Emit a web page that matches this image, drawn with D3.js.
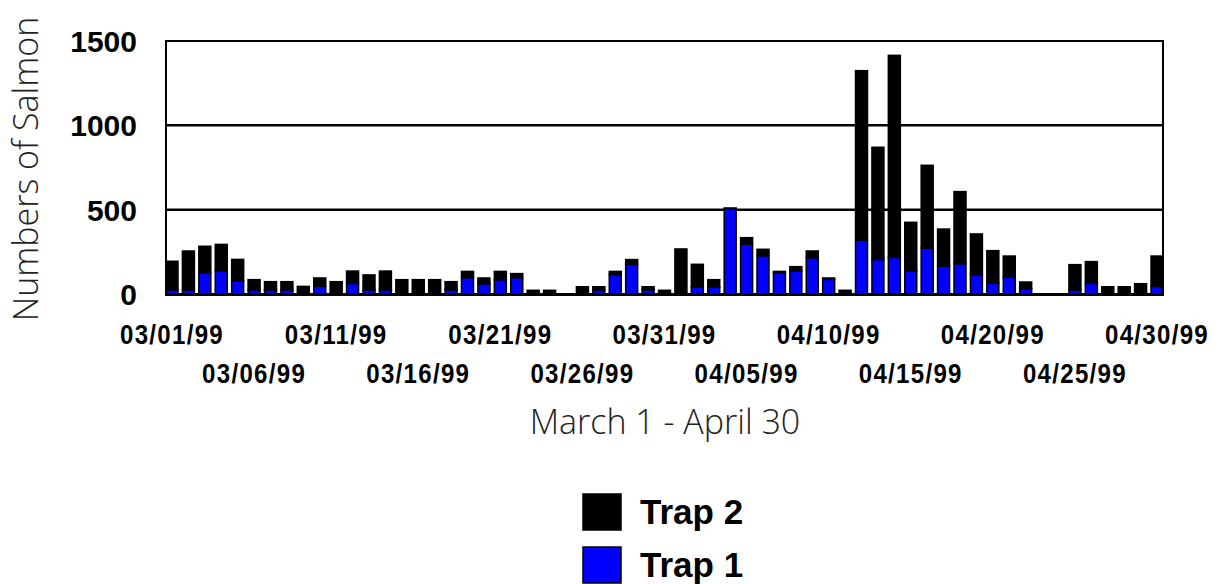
<html>
<!-- salmon counts per day at the two traps, stacked bars -->
<script src="https://d3js.org/d3.v7.min.js"></script>
<style>
  body { margin: 0; background: white; }
  .tick-y { font-family: "Liberation Sans", Arial, sans-serif; font-weight: bold; font-size: 30px; }
  .tick-x { font-family: "Liberation Sans", Arial, sans-serif; font-weight: bold; font-size: 28px; letter-spacing: 1.5px; }
  .title { font-family: "Open Sans", "Liberation Sans", sans-serif; font-weight: 300; font-size: 34px; fill: #222; }
  .legend { font-family: "Liberation Sans", Arial, sans-serif; font-weight: bold; font-size: 35px; }
</style>
<body>
<svg width="1221" height="584"></svg>

<script>
// one entry per day, March 1 to April 30 1999
const days = d3.timeDay.range(new Date(1999, 2, 1), new Date(1999, 4, 1));

// Trap 1 (blue, bottom of each bar)
const trap1 = [25,25,126,138,77,25,25,25,0,47,0,63,25,25,0,0,0,25,97,61,
               85,97,0,0,0,0,25,115,176,25,0,0,40,40,505,296,227,126,138,215,
               87,0,320,205,217,136,273,166,180,115,65,101,32,0,0,25,63,0,0,0,45];

// Trap 2 (black, stacked on top)
const trap2 = [169,230,157,156,128,60,48,48,45,48,73,73,88,111,85,85,85,48,37,34,
               49,24,22,22,0,43,18,19,28,18,22,267,136,45,5,38,38,8,24,40,
               8,22,1004,665,1198,289,490,219,427,241,192,124,39,0,0,149,129,43,43,61,180];

const yTicks = [0, 500, 1000, 1500];
const xTickLabels = ["03/01/99","03/06/99","03/11/99","03/16/99","03/21/99","03/26/99",
                     "03/31/99","04/05/99","04/10/99","04/15/99","04/20/99","04/25/99","04/30/99"];

const legendItems = [{name: "Trap 2", color: "#000000"}, {name: "Trap 1", color: "#0000ff"}];

const fmt = d3.timeFormat("%m/%d/%y");
const svg = d3.select("svg");

const plotL = 166, plotR = 1163, plotT = 41, plotB = 294;

const x = d3.scaleBand()
  .domain(days.map(fmt))
  .range([plotL, plotR])
  .paddingInner(0.27)
  .paddingOuter(0);

const y = d3.scaleLinear().domain([0, 1500]).range([plotB, plotT]);

// gridlines
svg.append("g").selectAll("line")
  .data(yTicks.filter(d => d > 0 && d < 1500))
  .join("line")
    .attr("x1", plotL).attr("x2", plotR)
    .attr("y1", d => y(d)).attr("y2", d => y(d))
    .attr("stroke", "black").attr("stroke-width", 2.5);

// stacked bars
const rows = days.map((d, i) => ({key: fmt(d), t1: trap1[i], t2: trap2[i]}));

const bars = svg.append("g");
bars.selectAll("rect.t1")
  .data(rows.filter(d => d.t1 > 0))
  .join("rect")
    .attr("class", "t1")
    .attr("x", d => x(d.key))
    .attr("width", x.bandwidth())
    .attr("y", d => y(d.t1))
    .attr("height", d => y(0) - y(d.t1))
    .attr("fill", "#0000ff")
    .attr("stroke", "black").attr("stroke-width", 1.5);

bars.selectAll("rect.t2")
  .data(rows.filter(d => d.t2 > 0))
  .join("rect")
    .attr("class", "t2")
    .attr("x", d => x(d.key))
    .attr("width", x.bandwidth())
    .attr("y", d => y(d.t1 + d.t2))
    .attr("height", d => y(d.t1) - y(d.t1 + d.t2))
    .attr("fill", "black")
    .attr("stroke", "black").attr("stroke-width", 1.5);

// frame
svg.append("rect")
  .attr("x", plotL).attr("y", plotT)
  .attr("width", plotR - plotL).attr("height", plotB - plotT)
  .attr("fill", "none").attr("stroke", "black").attr("stroke-width", 2);
svg.append("line")
  .attr("x1", plotL - 1).attr("x2", plotR + 1)
  .attr("y1", plotB + 0.5).attr("y2", plotB + 0.5)
  .attr("stroke", "black").attr("stroke-width", 3);

// y tick labels
svg.append("g").selectAll("text")
  .data(yTicks)
  .join("text")
    .attr("class", "tick-y")
    .attr("x", 137)
    .attr("y", d => y(d) + 11)
    .attr("text-anchor", "end")
    .text(d => d);

// x tick labels, two staggered rows, squeezed sideways like the narrow original font
svg.append("g").selectAll("text")
  .data(xTickLabels)
  .join("text")
    .attr("class", "tick-x")
    .attr("transform", (d, i) =>
      `translate(${x(d) + x.bandwidth() / 2},${i % 2 == 0 ? 344 : 383}) scale(0.86,1)`)
    .attr("text-anchor", "middle")
    .text(d => d);

// axis titles
svg.append("text")
  .attr("class", "title")
  .attr("transform", "translate(38,169) rotate(-90)")
  .attr("text-anchor", "middle")
  .text("Numbers of Salmon");

svg.append("text")
  .attr("class", "title")
  .attr("x", 665).attr("y", 434)
  .attr("text-anchor", "middle")
  .text("March 1 - April 30");

// legend
const lg = svg.append("g").selectAll("g")
  .data(legendItems)
  .join("g")
    .attr("transform", (d, i) => `translate(583,${494 + i * 53})`);
lg.append("rect")
  .attr("width", 38).attr("height", 36)
  .attr("fill", d => d.color)
  .attr("stroke", "black").attr("stroke-width", 1.5);
lg.append("text")
  .attr("class", "legend")
  .attr("x", 57).attr("y", 30)
  .text(d => d.name);
</script>
</body>
</html>
